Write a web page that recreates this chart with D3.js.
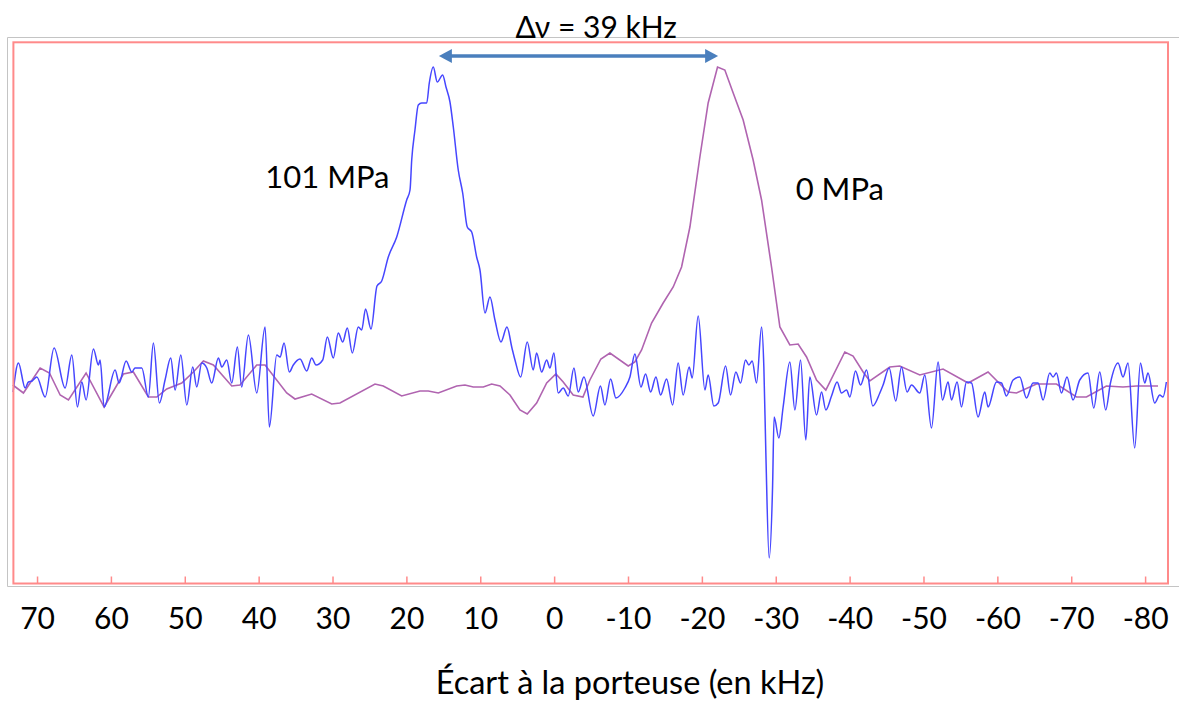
<!DOCTYPE html>
<html><head><meta charset="utf-8">
<script src="https://cdn.jsdelivr.net/npm/d3@7"></script>
<style>
html,body{margin:0;padding:0;background:#fff;}
svg{display:block;}
text{font-family:Lato,"Open Sans",sans-serif;fill:#000;}
</style>
</head><body>
<svg id="chart" width="1179" height="702"></svg>
<script>
// ---- data ----
const tickValues = [70, 60, 50, 40, 30, 20, 10, 0, -10, -20, -30, -40, -50, -60, -70, -80];
const tickLabels = ["70","60","50","40","30","20","10","0","-10","-20","-30","-40","-50","-60","-70","-80"];
const xTitle = "Écart à la porteuse (en kHz)";
const seriesNames = ["101 MPa", "0 MPa"];
const deltaLabel = "Δν = 39 kHz";

// 101 MPa spectrum : offset from carrier (kHz) and amplitude (a.u.)
const freq101 = [73.24,72.52,71.61,71.17,70.66,70.03,68.90,67.69,66.20,65.29,64.53,63.94,63.36,62.37,61.69,61.46,60.92,59.43,58.89,57.94,57.17,56.73,55.82,54.93,54.25,53.44,52.67,51.90,51.31,50.54,49.73,48.92,48.38,47.70,47.02,46.35,45.45,44.99,44.32,43.64,42.88,42.29,41.39,40.26,39.13,38.55,37.55,37.10,36.56,35.85,35.31,34.40,33.49,32.82,32.23,31.33,30.70,29.89,29.22,28.62,28.00,27.32,26.51,26.05,25.53,24.79,23.98,23.34,22.45,21.31,19.96,19.51,19.28,18.84,18.39,17.93,17.25,16.90,16.36,15.82,15.09,14.64,14.10,13.65,12.98,12.38,11.76,11.16,10.49,10.04,9.36,8.69,8.01,7.20,6.39,5.71,5.30,4.53,3.64,2.83,2.37,1.69,1.01,0.57,0.03,-0.55,-1.23,-1.91,-2.68,-3.26,-4.03,-5.29,-6.27,-6.87,-7.65,-8.36,-9.58,-10.26,-10.93,-11.75,-12.38,-13.06,-13.78,-14.41,-15.22,-16.04,-16.79,-17.47,-18.28,-18.69,-19.50,-20.41,-20.85,-21.62,-22.21,-23.21,-23.88,-24.60,-25.24,-25.91,-26.36,-26.81,-27.40,-28.08,-28.39,-28.66,-29.11,-29.57,-29.78,-30.42,-31.00,-31.91,-32.59,-33.36,-34.07,-34.61,-35.52,-36.20,-36.78,-37.55,-38.31,-38.90,-39.58,-40.03,-40.80,-41.48,-42.29,-43.14,-44.09,-44.53,-45.35,-46.25,-47.02,-47.78,-48.38,-49.50,-50.18,-51.08,-51.98,-52.57,-53.33,-53.79,-54.55,-55.14,-55.82,-56.50,-57.39,-58.30,-58.74,-59.88,-60.56,-61.23,-62.13,-63.03,-63.94,-64.83,-65.51,-66.19,-67.09,-67.54,-68.00,-68.67,-69.43,-70.24,-71.15,-72.27,-73.05,-73.86,-74.67,-75.31,-76.34,-77.01,-77.69,-78.59,-79.37,-79.95,-80.39,-81.30,-81.98,-82.42,-82.88];
const amp101 = [-7,22,-3,3,4,8,-12,37,-3,30,-22,3,-15,36,20,25,-22,15,2,24,13,17,17,-12,42,-18,5,27,-5,30,-20,18,-2,22,17,2,27,18,25,2,38,-2,50,-8,58,-42,30,28,42,13,20,26,14,27,20,25,48,27,52,43,57,32,58,55,76,56,99,104,128,148,185,195,225,255,280,282,282,302,318,303,310,298,283,258,215,192,158,153,128,115,72,88,65,43,58,37,25,8,43,15,32,13,25,17,32,-8,-3,-11,17,-7,8,-31,-1,-20,6,-13,-3,8,31,-2,11,-7,8,-10,6,-20,22,-10,18,7,69,-5,10,-21,-18,19,-10,13,2,25,20,24,2,58,18,-68,-173,-102,-32,-53,-22,23,-25,25,-55,8,-30,-7,-25,-11,3,-8,-5,-12,14,0,15,-21,-8,0,17,-16,18,-7,0,-8,10,-43,23,-15,3,-15,3,-22,3,2,-32,-7,-22,3,2,-11,5,8,-13,2,2,-15,12,8,12,-8,8,-15,5,12,-23,13,-25,2,22,8,22,-63,22,2,12,-18,-10,-12,3];

// 0 MPa spectrum
const freq0 = [73.28,71.84,69.58,68.32,66.87,65.75,63.36,60.92,58.31,56.96,54.93,53.79,52.44,50.41,48.84,47.48,46.13,43.64,42.52,40.26,39.13,36.20,35.08,32.82,30.11,28.99,24.25,23.13,20.64,18.16,17.04,15.68,13.19,12.07,10.95,9.59,8.46,7.33,5.98,4.63,3.64,2.37,1.01,-0.24,-1.23,-2.58,-3.90,-4.84,-6.33,-7.55,-10.03,-10.93,-11.84,-13.19,-14.76,-16.12,-17.25,-18.38,-19.73,-20.85,-22.12,-23.11,-24.24,-25.59,-26.94,-28.08,-29.43,-30.56,-31.91,-33.03,-34.17,-35.52,-36.78,-39.35,-40.47,-41.83,-42.73,-45.44,-46.79,-49.50,-52.65,-56.04,-58.74,-61.45,-62.59,-65.29,-68.00,-70.71,-72.06,-74.76,-77.01,-78.82,-81.75];
const amp0 = [0,-8,17,12,-10,-15,12,-22,11,13,-12,-12,-4,2,13,24,20,-1,0,20,20,-8,-14,-9,-19,-18,1,-1,-11,-6,-6,-8,-1,0,-2,-2,1,-1,-10,-25,-29,-18,2,11,3,-10,-12,5,26,32,19,23,35,62,82,98,118,158,228,282,318,315,292,265,225,185,118,58,40,41,28,5,-5,33,29,13,4,18,19,10,16,2,13,-7,-8,1,1,-12,-12,-1,-2,-1,-1];

// annotation anchors (data units)
const deltaFrom = 15.6, deltaTo = -22.2, deltaAmp = 329;
const deltaLabelPos = [-5.7, 347];
const label101Pos = [39.1, 197];
const label0Pos = [-32.7, 185];

// ---- drawing ----
const svg = d3.select("#chart");
const x = d3.scaleLinear().domain([73.2, -83.1]).range([13.4, 1168]);
const y = d3.scaleLinear().domain([-198.5, 342.7]).range([583.5, 42.3]);

// outer grey frame
svg.append("path")
  .attr("d", "M1179,37.5H7.5V586.5H1179")
  .attr("fill", "none").attr("stroke", "#c4c4c4").attr("stroke-width", 1);

// series
const s101 = freq101.map((f, i) => [f, amp101[i]]);
const s0 = freq0.map((f, i) => [f, amp0[i]]);

svg.append("path").datum(s0)
  .attr("fill", "none").attr("stroke", "#b064b0").attr("stroke-width", 1.6)
  .attr("d", d3.line().x(d => x(d[0])).y(d => y(d[1])));

svg.append("path").datum(s101)
  .attr("fill", "none").attr("stroke", "#4646ff").attr("stroke-width", 1.5)
  .attr("d", d3.line().curve(d3.curveMonotoneX).x(d => x(d[0])).y(d => y(d[1])));

// plot frame (red)
svg.append("rect")
  .attr("x", x.range()[0]).attr("y", y.range()[1])
  .attr("width", x.range()[1] - x.range()[0])
  .attr("height", y.range()[0] - y.range()[1])
  .attr("fill", "none").attr("stroke", "#ff8a8a").attr("stroke-width", 2);

// axis
const axis = svg.append("g").attr("transform", `translate(0,${y.range()[0]})`)
  .call(d3.axisBottom(x).tickValues(tickValues).tickFormat((d, i) => tickLabels[i]).tickSize(-7));
axis.select(".domain").remove();
axis.selectAll(".tick line").attr("stroke", "#ff8a8a").attr("stroke-width", 1.5);
axis.selectAll(".tick text").attr("y", 45).attr("dy", 0)
  .attr("font-size", 30).attr("font-family", "Lato, 'Open Sans', sans-serif").attr("fill", "#000");

svg.append("text").attr("x", 630).attr("y", 694).attr("text-anchor", "middle")
  .attr("font-size", 32.5).text(xTitle);

// annotations
svg.append("text").attr("x", x(label101Pos[0])).attr("y", y(label101Pos[1]))
  .attr("font-size", 31).text(seriesNames[0]);
svg.append("text").attr("x", x(label0Pos[0])).attr("y", y(label0Pos[1]))
  .attr("font-size", 31).text(seriesNames[1]);
svg.append("text").attr("x", x(deltaLabelPos[0])).attr("y", y(deltaLabelPos[1]))
  .attr("text-anchor", "middle").attr("font-size", 30).text(deltaLabel);

const ax0 = x(deltaFrom), ax1 = x(deltaTo), ay = y(deltaAmp);
const head = 13, hw = 7, col = "#4a7fbd";
svg.append("line").attr("x1", ax0 + head - 1).attr("x2", ax1 - head + 1)
  .attr("y1", ay).attr("y2", ay).attr("stroke", col).attr("stroke-width", 3.5);
svg.append("path").attr("fill", col)
  .attr("d", `M${ax0},${ay}L${ax0 + head},${ay - hw}L${ax0 + head},${ay + hw}Z`);
svg.append("path").attr("fill", col)
  .attr("d", `M${ax1},${ay}L${ax1 - head},${ay - hw}L${ax1 - head},${ay + hw}Z`);
</script>
</body></html>
